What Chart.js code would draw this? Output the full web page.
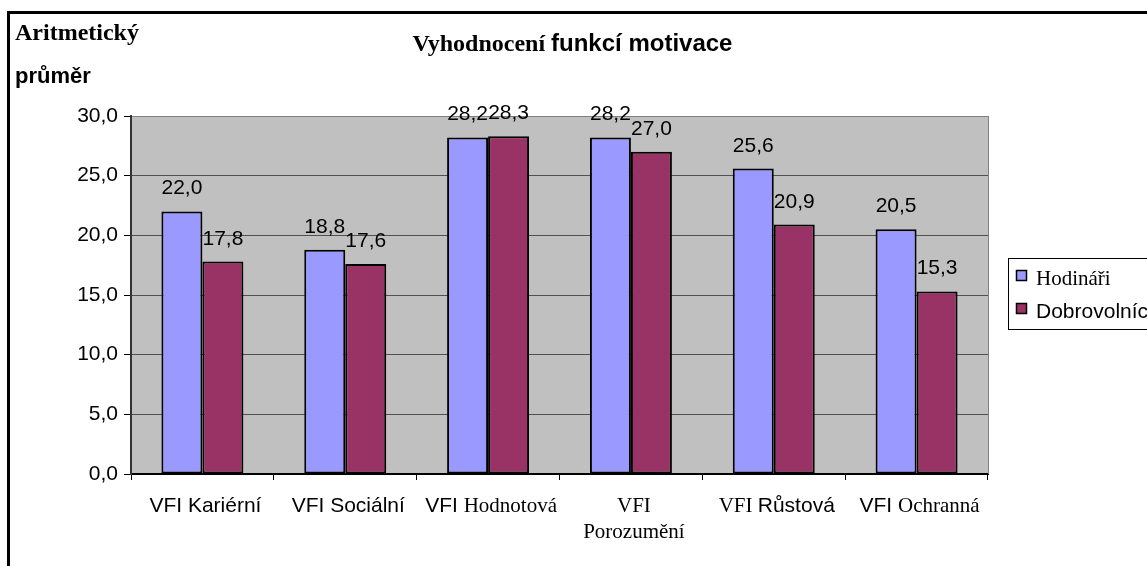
<!DOCTYPE html>
<html>
<head>
<meta charset="utf-8">
<script src="https://cdn.jsdelivr.net/npm/chart.js@4"></script>
<style>
html, body { margin: 0; padding: 0; background: #fff; overflow: hidden; }
canvas { display: block; }
</style>
</head>
<body>
<canvas id="myChart" width="1147" height="566"></canvas>
<script>
// Data
const categories = ['VFI Kariérní', 'VFI Sociální', 'VFI Hodnotová', 'VFI Porozumění', 'VFI Růstová', 'VFI Ochranná'];
const seriesNames = ['Hodináři', 'Dobrovolníci'];
const hodinari = [22.0, 18.8, 28.2, 28.2, 25.6, 20.5];
const dobrovolnici = [17.8, 17.6, 28.3, 27.0, 20.9, 15.3];
const yTicks = [0, 5, 10, 15, 20, 25, 30];

const titleParts = ['Vyhodnocení ', 'funkcí motivace'];
const yTitleLines = ['Aritmetický', 'průměr'];

// The original mixes Times and Arial, word by word
const SANS = '"Liberation Sans", Arial, sans-serif';
const SERIF = '"Liberation Serif", "Times New Roman", serif';
const labelFonts = [
    ['sans', 'sans'],
    ['sans', 'sans'],
    ['sans', 'serif'],
    ['serif', 'serif'],
    ['serif', 'sans'],
    ['sans', 'serif']
];
const labelTwoLines = [false, false, false, true, false, false];
const legendFonts = ['serif', 'sans'];

function fmt(v) {
    return v.toFixed(1).replace('.', ',');
}

function fontFor(kind, size, bold) {
    return (bold ? 'bold ' : '') + size + 'px ' + (kind === 'serif' ? SERIF : SANS);
}

function drawRuns(ctx, runs, x, y, align) {
    // runs: [{text, font}]
    let total = 0;
    runs.forEach(r => { ctx.font = r.font; total += ctx.measureText(r.text).width; });
    let cx = align === 'center' ? x - total / 2 : x;
    ctx.textAlign = 'left';
    runs.forEach(r => {
        ctx.font = r.font;
        ctx.fillText(r.text, cx, y);
        cx += ctx.measureText(r.text).width;
    });
}

const decorPlugin = {
    id: 'decor',
    beforeDraw(chart) {
        const ctx = chart.ctx;
        const a = chart.chartArea;
        ctx.save();
        ctx.fillStyle = '#ffffff';
        ctx.fillRect(0, 0, chart.width, chart.height);
        ctx.fillStyle = '#C0C0C0';
        ctx.fillRect(a.left, a.top, a.right - a.left, a.bottom - a.top);
        ctx.restore();
    },
    afterDraw(chart) {
        const ctx = chart.ctx;
        const a = chart.chartArea;
        const xs = chart.scales.x;
        ctx.save();

        // plot area frame, right side
        ctx.strokeStyle = '#808080';
        ctx.lineWidth = 1;
        ctx.beginPath();
        ctx.moveTo(a.right + 0.5, a.top);
        ctx.lineTo(a.right + 0.5, a.bottom);
        ctx.stroke();

        // value labels
        ctx.fillStyle = '#000';
        ctx.textAlign = 'center';
        ctx.textBaseline = 'alphabetic';
        ctx.font = '21px ' + SANS;
        chart.data.datasets.forEach((ds, d) => {
            chart.getDatasetMeta(d).data.forEach((bar, i) => {
                ctx.fillText(fmt(ds.data[i]), bar.x, bar.y - 17);
            });
        });

        // category labels
        categories.forEach((cat, i) => {
            const words = cat.split(' ');
            const cx = xs.getPixelForValue(i) + 3;
            const fonts = labelFonts[i].map(k => fontFor(k, k === 'serif' ? 21 : 21, false));
            if (labelTwoLines[i]) {
                drawRuns(ctx, [{ text: words[0], font: fonts[0] }], cx, 512, 'center');
                drawRuns(ctx, [{ text: words[1], font: fonts[1] }], cx, 538, 'center');
            } else {
                drawRuns(ctx, [
                    { text: words[0] + ' ', font: fonts[0] },
                    { text: words[1], font: fonts[1] }
                ], cx, 512, 'center');
            }
        });

        // title
        drawRuns(ctx, [
            { text: titleParts[0], font: fontFor('serif', 24, true) },
            { text: titleParts[1], font: fontFor('sans', 24, true) }
        ], chart.width / 2 - 1, 51, 'center');

        // y axis title (top left, two lines)
        drawRuns(ctx, [{ text: yTitleLines[0], font: fontFor('serif', 24, true) }], 15, 40, 'left');
        drawRuns(ctx, [{ text: yTitleLines[1], font: fontFor('sans', 22, true) }], 15, 83, 'left');

        // legend
        ctx.strokeStyle = '#000';
        ctx.lineWidth = 1;
        ctx.strokeRect(1008.5, 258.5, 220, 71);
        chart.data.datasets.forEach((ds, d) => {
            const y0 = 270 + d * 33;
            ctx.fillStyle = ds.backgroundColor;
            ctx.fillRect(1016, y0, 11, 11);
            ctx.lineWidth = 1.5;
            ctx.strokeRect(1016.5, y0 + 0.5, 10, 10);
            ctx.fillStyle = '#000';
            drawRuns(ctx, [{ text: seriesNames[d], font: fontFor(legendFonts[d], 21, false) }], 1036, y0 + 15, 'left');
        });

        // outer chart border
        ctx.strokeStyle = '#000';
        ctx.lineWidth = 3;
        ctx.strokeRect(8.5, 12.5, 1400, 800);
        ctx.restore();
    }
};

const ctx = document.getElementById('myChart').getContext('2d');
const myChart = new Chart(ctx, {
    type: 'bar',
    data: {
        labels: categories,
        datasets: [{
            label: seriesNames[0],
            data: hodinari,
            backgroundColor: '#9999FF',
            borderColor: '#000000',
            borderWidth: 2,
            borderSkipped: false
        }, {
            label: seriesNames[1],
            data: dobrovolnici,
            backgroundColor: '#993366',
            borderColor: '#000000',
            borderWidth: 2,
            borderSkipped: false
        }]
    },
    options: {
        responsive: false,
        animation: false,
        devicePixelRatio: 1,
        layout: { padding: { left: 0, top: 116, right: 159, bottom: 0 } },
        datasets: {
            bar: { categoryPercentage: 0.574, barPercentage: 1.0 }
        },
        plugins: {
            legend: { display: false },
            title: { display: false },
            tooltip: { enabled: false }
        },
        scales: {
            x: {
                offset: true,
                grid: {
                    offset: true,
                    drawOnChartArea: false,
                    drawTicks: true,
                    tickLength: 6,
                    tickColor: '#000'
                },
                border: { color: '#000', width: 2 },
                ticks: { display: false },
                afterFit(scale) { scale.height = 92; }
            },
            y: {
                min: yTicks[0],
                max: yTicks[yTicks.length - 1],
                grid: {
                    color: c => (c.tick && c.tick.value === yTicks[yTicks.length - 1]) ? '#808080' : '#505050',
                    lineWidth: 1,
                    drawTicks: true,
                    tickLength: 7,
                    tickColor: '#000'
                },
                border: { color: '#333', width: 2 },
                ticks: {
                    stepSize: yTicks[1] - yTicks[0],
                    padding: 6,
                    color: '#000',
                    font: { family: SANS, size: 21 },
                    callback: v => fmt(v)
                },
                afterFit(scale) { scale.width = 131; }
            }
        }
    },
    plugins: [decorPlugin]
});
</script>
</body>
</html>
